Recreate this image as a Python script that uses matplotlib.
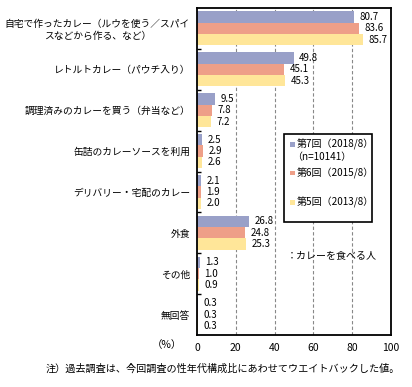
import matplotlib
matplotlib.use("Agg")
import matplotlib.pyplot as plt
from matplotlib.patches import Rectangle
import numpy as np

plt.rcParams['font.family'] = ['Noto Sans CJK JP', 'DejaVu Sans']

categories = [
    "自宅で作ったカレー（ルウを使う／スパイ\nスなどから作る、など）",
    "レトルトカレー（パウチ入り）",
    "調理済みのカレーを買う（弁当など）",
    "缶詰のカレーソースを利用",
    "デリバリー・宅配のカレー",
    "外食",
    "その他",
    "無回答",
]
series_names = ["第7回（2018/8）", "第6回（2015/8）", "第5回（2013/8）"]
n_note = "（n=10141）"
vals_2018 = [80.7, 49.8, 9.5, 2.5, 2.1, 26.8, 1.3, 0.3]
vals_2015 = [83.6, 45.1, 7.8, 2.9, 1.9, 24.8, 1.0, 0.3]
vals_2013 = [85.7, 45.3, 7.2, 2.6, 2.0, 25.3, 0.9, 0.3]
colors = ["#99A0C8", "#EE9F88", "#FFE699"]
xticks = [0, 20, 40, 60, 80, 100]
unit_label = "（%）"
eater_note = "：カレーを食べる人"
footnote = "注）過去調査は、今回調査の性年代構成比にあわせてウエイトバックした値。"

W, H = 412, 387
fig = plt.figure(figsize=(W / 100, H / 100), dpi=100)
ax = fig.add_axes([197 / W, 1 - 335 / H, (391 - 197) / W, (335 - 8) / H])

y = np.arange(len(categories))
h = 0.277
series = [vals_2018, vals_2015, vals_2013]
for k, (vals, c) in enumerate(zip(series, colors)):
    pos = y + (k - 1) * h
    ax.barh(pos, vals, height=h, color=c, edgecolor='none', zorder=2)
    for p, v in zip(pos, vals):
        ax.annotate(f"{v:.1f}", (v, p), xytext=(4, 0), textcoords='offset points',
                    ha='left', va='center', fontsize=7, zorder=3)

ax.set_xlim(0, 100)
ax.set_ylim(len(categories) - 0.5, -0.5)
ax.set_xticks(xticks)
ax.set_xticklabels([str(t) for t in xticks], fontsize=7.5)
ax.tick_params(axis='x', length=0, pad=6)
for t in xticks[1:-1]:
    ax.axvline(t, color='#888888', linestyle=(0, (3, 2)), linewidth=0.8, zorder=1)

ax.set_yticks(np.arange(0.5, len(categories) - 0.5, 1))
ax.set_yticklabels([])
ax.tick_params(axis='y', which='major', direction='in', length=3, width=1)
ax.set_yticks(y, minor=True)
ax.set_yticklabels(categories, minor=True, fontsize=7.0, multialignment='center')
ax.tick_params(axis='y', which='minor', length=0, pad=5)
for s in ax.spines.values():
    s.set_linewidth(1.3)
    s.set_color('black')

# legend (manual)
lx0, ly0, lx1, ly1 = 284, 134, 372, 222
fig.patches.append(Rectangle((lx0 / W, 1 - ly1 / H), (lx1 - lx0) / W, (ly1 - ly0) / H,
                             transform=fig.transFigure, facecolor='white',
                             edgecolor='black', linewidth=1.2, zorder=5))
entry_y = [144, 173, 202]
for name, c, ey in zip(series_names, colors, entry_y):
    fig.patches.append(Rectangle((290 / W, 1 - (ey + 2.5) / H), 5 / W, 5 / H,
                                 transform=fig.transFigure, facecolor=c,
                                 edgecolor='none', zorder=6))
    fig.text(297 / W, 1 - ey / H, name, fontsize=7.2, va='center', ha='left', zorder=6)
fig.text(292 / W, 1 - 157 / H, n_note, fontsize=7.2, va='center', ha='left', zorder=6)

fig.text(287 / W, 1 - 255 / H, eater_note, fontsize=7.2, va='center', ha='left')
fig.text(182 / W, 1 - 345 / H, unit_label, fontsize=7.5, va='center', ha='right')
fig.text(400 / W, 1 - 369 / H, footnote, fontsize=7.3, va='center', ha='right')

fig.savefig("out.png", dpi=100)
